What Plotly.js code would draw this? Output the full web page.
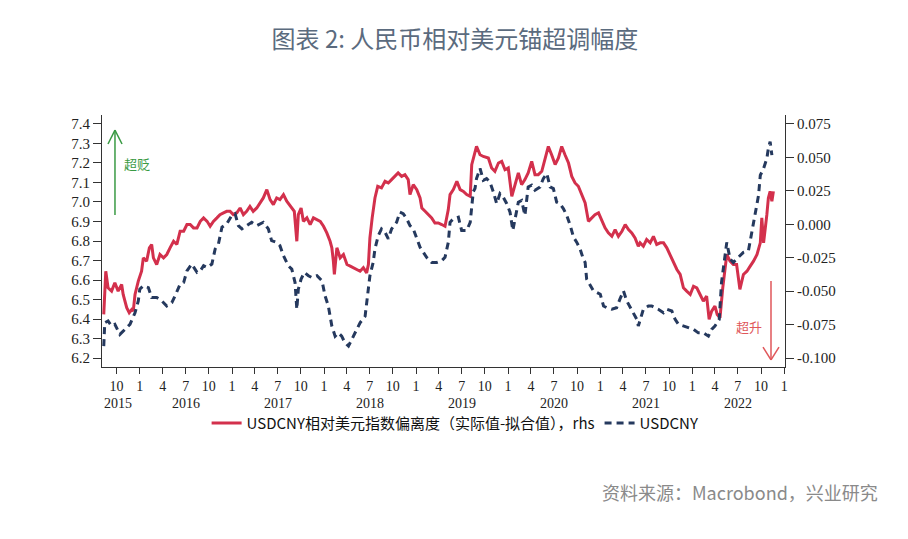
<!DOCTYPE html>
<html>
<head>
<meta charset="utf-8">
<script src="https://cdn.plot.ly/plotly-3.0.1.min.js"></script>
<style>
html,body{margin:0;padding:0;background:#fff;}
#chart{width:908px;height:539px;}
</style>
</head>
<body>
<div id="chart"></div>
<script>
// ---- Data ----
const redName = 'USDCNY相对美元指数偏离度（实际值-拟合值），rhs';
const blueName = 'USDCNY';

const redDates = ['2015-08-11','2015-08-19','2015-08-28','2015-09-11','2015-09-24','2015-10-07','2015-10-21','2015-10-27','2015-11-10','2015-11-20','2015-11-30','2015-12-06','2015-12-13','2015-12-26','2016-01-08','2016-01-15','2016-01-28','2016-02-08','2016-02-17','2016-02-24','2016-03-08','2016-03-21','2016-04-04','2016-04-17','2016-04-30','2016-05-14','2016-05-27','2016-06-09','2016-06-23','2016-07-06','2016-07-19','2016-08-01','2016-08-15','2016-08-28','2016-09-10','2016-09-24','2016-10-06','2016-10-19','2016-11-02','2016-11-14','2016-11-28','2016-12-11','2016-12-24','2017-01-06','2017-01-20','2017-02-02','2017-02-15','2017-02-28','2017-03-13','2017-03-26','2017-04-09','2017-04-22','2017-05-05','2017-05-19','2017-05-25','2017-06-01','2017-06-14','2017-06-27','2017-07-10','2017-07-24','2017-08-06','2017-08-19','2017-08-26','2017-09-05','2017-09-15','2017-09-21','2017-10-02','2017-10-11','2017-10-25','2017-11-07','2017-11-20','2017-12-04','2017-12-17','2017-12-30','2018-01-12','2018-01-25','2018-02-01','2018-02-07','2018-02-11','2018-02-21','2018-03-06','2018-03-19','2018-04-02','2018-04-15','2018-04-28','2018-05-11','2018-05-24','2018-06-06','2018-06-19','2018-06-26','2018-07-02','2018-07-11','2018-07-22','2018-08-02','2018-08-17','2018-08-31','2018-09-13','2018-09-26','2018-10-09','2018-10-22','2018-11-05','2018-11-18','2018-12-01','2018-12-08','2018-12-21','2019-01-04','2019-01-17','2019-01-24','2019-02-06','2019-02-19','2019-03-04','2019-03-17','2019-03-30','2019-04-13','2019-04-26','2019-05-09','2019-05-16','2019-05-29','2019-06-12','2019-06-25','2019-07-08','2019-07-21','2019-08-04','2019-08-10','2019-08-29','2019-09-12','2019-09-25','2019-10-15','2019-10-28','2019-11-10','2019-11-24','2019-12-07','2019-12-20','2020-01-02','2020-01-16','2020-01-29','2020-02-11','2020-02-24','2020-03-08','2020-03-21','2020-04-04','2020-04-17','2020-04-30','2020-05-14','2020-05-27','2020-06-09','2020-06-22','2020-07-06','2020-07-19','2020-08-01','2020-08-14','2020-08-28','2020-09-10','2020-09-23','2020-10-06','2020-10-19','2020-11-02','2020-11-15','2020-11-28','2020-12-11','2020-12-25','2021-01-07','2021-01-20','2021-02-02','2021-02-16','2021-03-01','2021-03-14','2021-03-28','2021-04-10','2021-04-23','2021-05-06','2021-05-19','2021-06-01','2021-06-08','2021-06-21','2021-07-04','2021-07-18','2021-07-31','2021-08-13','2021-08-27','2021-09-09','2021-09-22','2021-10-05','2021-10-18','2021-11-01','2021-11-14','2021-11-27','2021-12-10','2021-12-24','2022-01-06','2022-01-19','2022-02-01','2022-02-14','2022-02-27','2022-03-09','2022-03-19','2022-04-01','2022-04-10','2022-04-21','2022-05-02','2022-05-11','2022-05-18','2022-05-31','2022-06-13','2022-06-26','2022-07-09','2022-07-23','2022-08-06','2022-08-19','2022-09-01','2022-09-15','2022-09-28','2022-10-04','2022-10-11','2022-10-24','2022-10-30','2022-11-06','2022-11-13','2022-11-19'];
const redValues = [-0.0674,-0.0351,-0.0475,-0.0500,-0.0437,-0.0500,-0.0450,-0.0525,-0.0624,-0.0661,-0.0637,-0.0649,-0.0525,-0.0425,-0.0351,-0.0251,-0.0276,-0.0176,-0.0151,-0.0251,-0.0301,-0.0226,-0.0251,-0.0226,-0.0176,-0.0127,-0.0151,-0.0052,-0.0052,-0.0002,-0.0002,-0.0027,-0.0027,0.0022,0.0048,0.0022,-0.0015,0.0022,0.0048,0.0072,0.0085,0.0097,0.0097,0.0072,0.0085,0.0122,0.0072,0.0097,0.0134,0.0097,0.0122,0.0160,0.0197,0.0259,0.0222,0.0184,0.0147,0.0197,0.0184,0.0222,0.0172,0.0140,0.0122,0.0097,-0.0127,0.0072,0.0122,0.0022,0.0048,-0.0002,0.0048,0.0035,0.0022,-0.0015,-0.0064,-0.0127,-0.0176,-0.0276,-0.0375,-0.0176,-0.0251,-0.0226,-0.0301,-0.0313,-0.0325,-0.0338,-0.0351,-0.0325,-0.0363,-0.0301,-0.0102,0.0048,0.0197,0.0284,0.0272,0.0321,0.0309,0.0334,0.0358,0.0384,0.0358,0.0371,0.0334,0.0222,0.0296,0.0259,0.0197,0.0122,0.0097,0.0072,0.0048,0.0010,0.0010,-0.0002,-0.0015,0.0110,0.0222,0.0259,0.0321,0.0259,0.0246,0.0222,0.0209,0.0446,0.0582,0.0520,0.0507,0.0496,0.0421,0.0396,0.0458,0.0470,0.0408,0.0421,0.0209,0.0296,0.0384,0.0296,0.0334,0.0384,0.0470,0.0371,0.0371,0.0396,0.0496,0.0582,0.0520,0.0446,0.0496,0.0582,0.0520,0.0458,0.0358,0.0309,0.0284,0.0222,0.0160,0.0022,0.0048,0.0072,0.0085,0.0022,-0.0027,-0.0064,-0.0090,-0.0040,-0.0090,-0.0052,-0.0002,-0.0040,-0.0064,-0.0102,-0.0164,-0.0139,-0.0164,-0.0114,-0.0139,-0.0090,-0.0151,-0.0139,-0.0139,-0.0176,-0.0226,-0.0288,-0.0338,-0.0375,-0.0475,-0.0500,-0.0525,-0.0463,-0.0475,-0.0525,-0.0575,-0.0537,-0.0711,-0.0649,-0.0612,-0.0674,-0.0699,-0.0475,-0.0351,-0.0226,-0.0276,-0.0301,-0.0301,-0.0487,-0.0375,-0.0351,-0.0313,-0.0276,-0.0226,-0.0139,0.0048,-0.0139,0.0072,0.0197,0.0246,0.0172,0.0246];

const blueDates = ['2015-08-11','2015-08-15','2015-08-28','2015-09-11','2015-09-24','2015-10-14','2015-11-03','2015-11-23','2015-12-13','2015-12-26','2016-01-01','2016-01-15','2016-02-04','2016-02-17','2016-03-08','2016-03-28','2016-04-17','2016-05-07','2016-05-20','2016-06-09','2016-06-23','2016-07-06','2016-07-25','2016-08-15','2016-08-28','2016-09-10','2016-09-24','2016-10-13','2016-10-26','2016-11-08','2016-11-22','2016-12-11','2016-12-31','2017-01-13','2017-01-26','2017-02-09','2017-02-28','2017-03-20','2017-04-09','2017-05-05','2017-05-25','2017-06-07','2017-06-27','2017-07-10','2017-07-24','2017-08-12','2017-08-26','2017-09-08','2017-09-15','2017-09-21','2017-10-02','2017-10-15','2017-10-31','2017-11-13','2017-12-04','2017-12-24','2018-01-05','2018-01-18','2018-02-01','2018-02-14','2018-02-27','2018-03-12','2018-03-25','2018-04-08','2018-04-21','2018-05-11','2018-05-24','2018-06-13','2018-06-23','2018-07-02','2018-07-15','2018-07-22','2018-08-04','2018-08-17','2018-08-31','2018-09-13','2018-09-26','2018-10-16','2018-10-29','2018-11-11','2018-11-25','2018-12-08','2018-12-21','2019-01-04','2019-01-17','2019-01-30','2019-02-12','2019-03-04','2019-03-24','2019-04-13','2019-04-26','2019-05-09','2019-05-16','2019-05-29','2019-06-18','2019-07-01','2019-07-21','2019-08-04','2019-08-16','2019-08-23','2019-08-29','2019-09-12','2019-09-25','2019-10-08','2019-10-21','2019-11-04','2019-11-17','2019-11-30','2019-12-13','2019-12-27','2020-01-09','2020-01-20','2020-01-29','2020-02-11','2020-02-24','2020-03-08','2020-03-21','2020-04-04','2020-04-17','2020-05-07','2020-05-20','2020-06-03','2020-06-16','2020-06-29','2020-07-12','2020-07-25','2020-08-08','2020-08-21','2020-09-04','2020-09-17','2020-09-30','2020-10-13','2020-10-26','2020-11-02','2020-11-08','2020-11-22','2020-12-05','2020-12-18','2021-01-01','2021-01-14','2021-01-27','2021-02-16','2021-03-07','2021-03-20','2021-04-03','2021-04-16','2021-04-30','2021-05-13','2021-05-26','2021-06-01','2021-06-21','2021-07-11','2021-07-24','2021-08-06','2021-08-19','2021-09-09','2021-09-22','2021-10-12','2021-10-25','2021-11-07','2021-11-27','2021-12-16','2022-01-06','2022-01-25','2022-02-14','2022-03-06','2022-03-19','2022-04-01','2022-04-18','2022-04-27','2022-05-11','2022-05-18','2022-05-31','2022-06-13','2022-06-26','2022-07-09','2022-07-23','2022-08-12','2022-08-25','2022-09-07','2022-09-21','2022-09-28','2022-10-04','2022-10-11','2022-10-24','2022-10-30','2022-11-06','2022-11-13'];
const blueValues = [6.261,6.381,6.390,6.364,6.373,6.321,6.347,6.373,6.432,6.493,6.553,6.570,6.561,6.510,6.510,6.493,6.467,6.484,6.519,6.579,6.587,6.647,6.682,6.639,6.647,6.673,6.664,6.682,6.759,6.785,6.871,6.888,6.931,6.940,6.879,6.862,6.879,6.896,6.879,6.896,6.862,6.802,6.793,6.776,6.725,6.673,6.656,6.587,6.450,6.553,6.605,6.639,6.622,6.613,6.622,6.596,6.519,6.467,6.364,6.312,6.329,6.312,6.278,6.261,6.295,6.347,6.381,6.415,6.519,6.622,6.690,6.759,6.827,6.862,6.845,6.811,6.862,6.896,6.948,6.940,6.914,6.879,6.862,6.811,6.768,6.742,6.716,6.690,6.690,6.699,6.716,6.793,6.896,6.914,6.922,6.854,6.854,6.896,7.052,7.069,7.120,7.172,7.111,7.120,7.103,7.051,6.991,7.043,7.025,6.991,6.948,6.854,6.922,6.999,7.008,6.931,7.077,7.086,7.060,7.077,7.120,7.146,7.077,7.069,6.999,6.991,6.965,6.931,6.879,6.819,6.793,6.759,6.707,6.690,6.605,6.570,6.544,6.536,6.527,6.467,6.458,6.450,6.458,6.502,6.544,6.493,6.458,6.432,6.398,6.364,6.450,6.467,6.467,6.458,6.450,6.432,6.450,6.441,6.398,6.373,6.364,6.355,6.347,6.329,6.329,6.312,6.347,6.364,6.398,6.587,6.708,6.793,6.708,6.690,6.708,6.725,6.742,6.751,6.845,6.931,7.034,7.137,7.154,7.172,7.223,7.275,7.309,7.240];

const quarterTicks = ['2015-10-01','2016-01-01','2016-04-01','2016-07-01','2016-10-01','2017-01-01','2017-04-01','2017-07-01','2017-10-01','2018-01-01','2018-04-01','2018-07-01','2018-10-01','2019-01-01','2019-04-01','2019-07-01','2019-10-01','2020-01-01','2020-04-01','2020-07-01','2020-10-01','2021-01-01','2021-04-01','2021-07-01','2021-10-01','2022-01-01','2022-04-01','2022-07-01','2022-10-01','2023-01-01'];
const quarterLabels = ['10','1','4','7','10','1','4','7','10','1','4','7','10','1','4','7','10','1','4','7','10','1','4','7','10','1','4','7','10','1'];
const yearLabels = ['2015','2016','2017','2018','2019','2020','2021','2022'];
const yearPositions = ['2015-10-08','2016-07-01','2017-07-01','2018-07-01','2019-07-01','2020-07-01','2021-07-01','2022-07-01'];
const leftTicks = [6.2,6.3,6.4,6.5,6.6,6.7,6.8,6.9,7.0,7.1,7.2,7.3,7.4];
const rightTicks = [-0.100,-0.075,-0.050,-0.025,0.000,0.025,0.050,0.075];
const rightTickLabels = ['-0.100','-0.075','-0.050','-0.025','0.000','0.025','0.050','0.075'];

const RED = '#d3304c';
const BLUE = '#25395e';
const serif = '"Liberation Serif", "Times New Roman", serif';
const cjk = '"Noto Sans CJK SC", "Noto Sans", sans-serif';

const traces = [
  {x: redDates, y: redValues, name: redName, type: 'scatter', mode: 'lines', yaxis: 'y',
   line: {color: RED, width: 3}},
  {x: blueDates, y: blueValues, name: blueName, type: 'scatter', mode: 'lines', yaxis: 'y2',
   line: {color: BLUE, width: 3, dash: '7px,5px'}}
];

const yearAnn = yearLabels.map((t, i) => ({
  text: t, x: yearPositions[i], xref: 'x', y: -0.143, yref: 'paper',
  showarrow: false, xanchor: 'center', yanchor: 'middle',
  font: {family: serif, size: 14, color: '#222'}
}));

const layout = {
  width: 908, height: 539,
  paper_bgcolor: '#fff', plot_bgcolor: '#fff',
  margin: {l: 102, r: 123, t: 115, b: 172},
  title: {text: '图表 2: 人民币相对美元锚超调幅度', x: 0.501, xref: 'container', xanchor: 'center',
          y: 0.926, yref: 'container', yanchor: 'middle',
          font: {family: cjk, size: 24, color: '#5b6b7e'}},
  showlegend: true,
  legend: {orientation: 'h', x: 0.517, xanchor: 'center', y: -0.158, yanchor: 'top',
           font: {family: cjk, size: 15, color: '#111'}, traceorder: 'normal',
           bgcolor: 'rgba(0,0,0,0)', itemwidth: 30},
  xaxis: {type: 'date', range: ['2015-08-04', '2023-01-04'],
          tickmode: 'array', tickvals: quarterTicks, ticktext: quarterLabels,
          ticks: 'outside', ticklen: 6, tickcolor: '#333', tickwidth: 1,
          showline: true, linecolor: '#333', linewidth: 1, showgrid: false, zeroline: false,
          tickfont: {family: serif, size: 14, color: '#222'}},
  yaxis: {side: 'right', range: [-0.1067, 0.0817], tickmode: 'array',
          tickvals: rightTicks, ticktext: rightTickLabels,
          ticks: 'outside', ticklen: 8, tickcolor: '#333', showline: true, linecolor: '#333', linewidth: 1,
          showgrid: false, zeroline: false, tickfont: {family: serif, size: 15, color: '#222'}},
  yaxis2: {side: 'left', overlaying: 'y', range: [6.154, 7.446], tickmode: 'array',
           tickvals: leftTicks, ticktext: leftTicks.map(v => v.toFixed(1)),
           ticks: 'outside', ticklen: 8, tickcolor: '#333', showline: true, linecolor: '#333', linewidth: 1,
           showgrid: false, zeroline: false, tickfont: {family: serif, size: 15, color: '#222'}},
  shapes: [
    // green "over-depreciation" arrow
    {type: 'line', xref: 'paper', yref: 'paper', x0: 0.0190, y0: 0.603, x1: 0.0190, y1: 0.940, line: {color: '#3a9a44', width: 1.5}},
    {type: 'line', xref: 'paper', yref: 'paper', x0: 0.0190, y0: 0.940, x1: 0.0088, y1: 0.885, line: {color: '#3a9a44', width: 1.5}},
    {type: 'line', xref: 'paper', yref: 'paper', x0: 0.0190, y0: 0.940, x1: 0.0293, y1: 0.885, line: {color: '#3a9a44', width: 1.5}},
    // red "over-appreciation" arrow
    {type: 'line', xref: 'paper', yref: 'paper', x0: 0.9795, y0: 0.341, x1: 0.9795, y1: 0.028, line: {color: '#e0575a', width: 1.5}},
    {type: 'line', xref: 'paper', yref: 'paper', x0: 0.9795, y0: 0.028, x1: 0.9678, y1: 0.079, line: {color: '#e0575a', width: 1.5}},
    {type: 'line', xref: 'paper', yref: 'paper', x0: 0.9795, y0: 0.028, x1: 0.9912, y1: 0.079, line: {color: '#e0575a', width: 1.5}}
  ],
  annotations: yearAnn.concat([
    {text: '超贬', xref: 'paper', yref: 'paper', x: 0.0512, y: 0.806, showarrow: false,
     xanchor: 'center', yanchor: 'middle', font: {family: cjk, size: 13, color: '#3a9a44'}},
    {text: '超升', xref: 'paper', yref: 'paper', x: 0.9473, y: 0.159, showarrow: false,
     xanchor: 'center', yanchor: 'middle', font: {family: cjk, size: 13, color: '#e0575a'}},
    {text: '资料来源：Macrobond，兴业研究', xref: 'paper', yref: 'paper', x: 1.139, y: -0.496,
     showarrow: false, xanchor: 'right', yanchor: 'middle', font: {family: cjk, size: 18, color: '#8a8a8a'}}
  ])
};

Plotly.newPlot('chart', traces, layout, {displayModeBar: false, staticPlot: true});
</script>
</body>
</html>
